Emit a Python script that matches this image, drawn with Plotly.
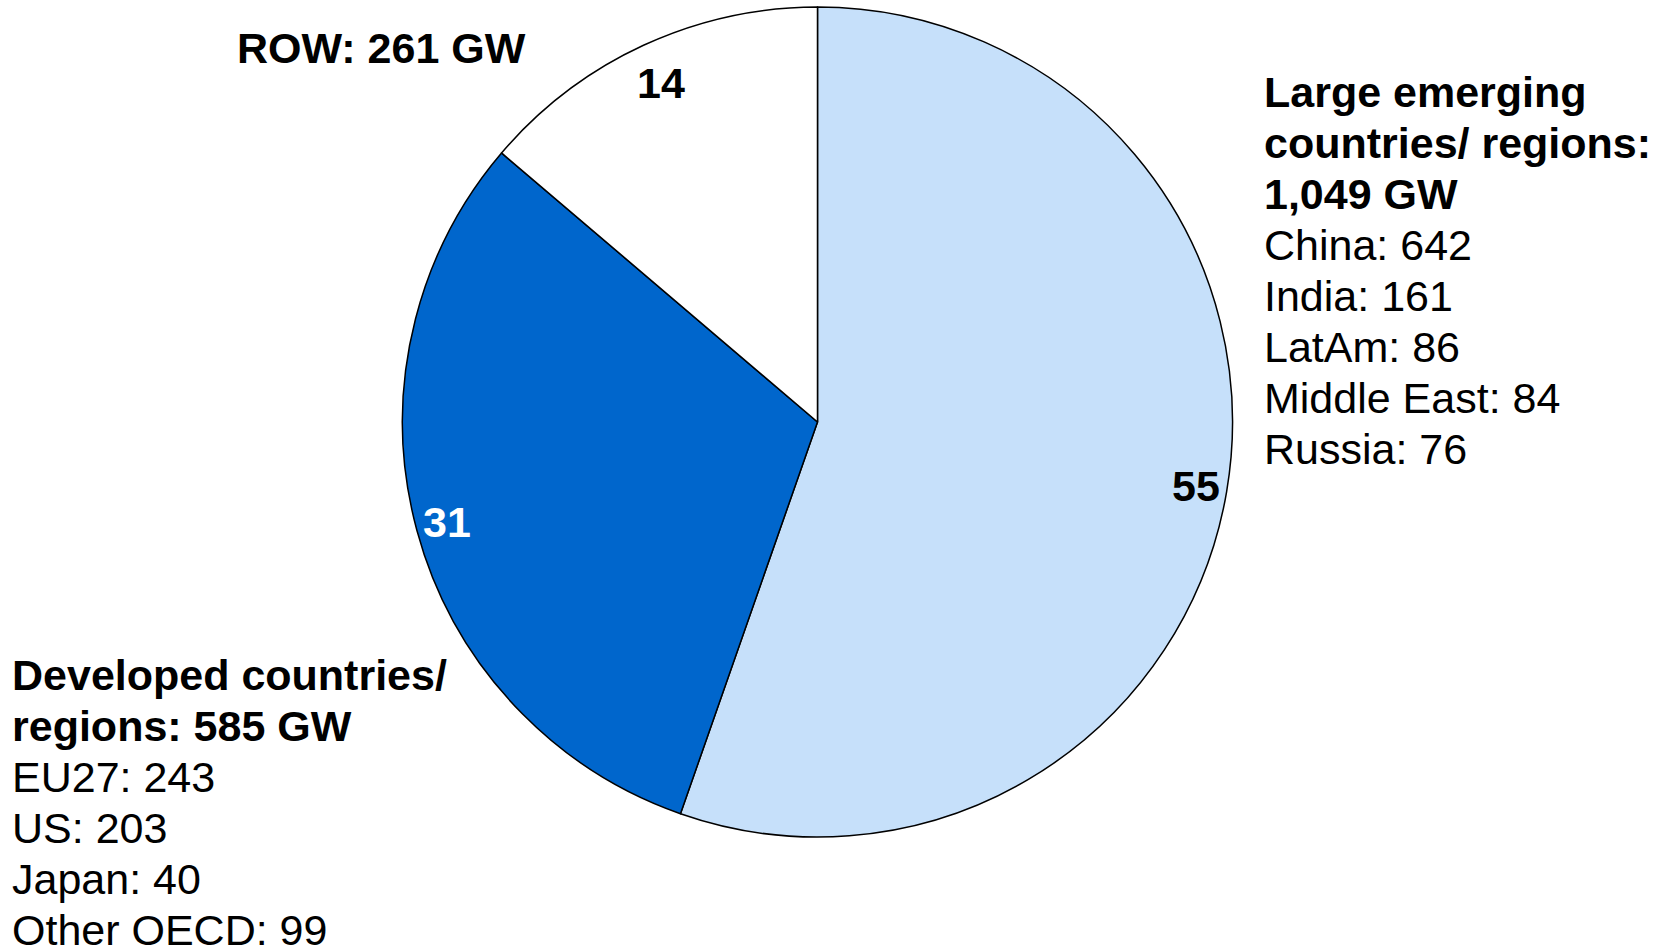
import math
import plotly.graph_objects as go

# ---- data ----
groups = ["Large emerging countries/ regions", "Developed countries/ regions", "ROW"]
capacity_gw = [1049, 585, 261]
share_labels = ["55", "31", "14"]
slice_colors = ["#C6E0FA", "#0066CC", "#FFFFFF"]
label_colors = ["#000000", "#FFFFFF", "#000000"]

emerging_title = ["Large emerging", "countries/ regions:", "1,049 GW"]
emerging_items = ["China: 642", "India: 161", "LatAm: 86", "Middle East: 84", "Russia: 76"]
developed_title = ["Developed countries/", "regions: 585 GW"]
developed_items = ["EU27: 243", "US: 203", "Japan: 40", "Other OECD: 99"]
row_title = "ROW: 261 GW"

W, H = 1660, 949
FONT = "Liberation Sans, Arial, sans-serif"
FS = 43

# pie geometry (pixels)
cx, cy, R = 817.5, 422.0, 415.0
label_radius = [0.925, 0.925, 0.9]

fig = go.Figure(go.Pie(
    labels=groups, values=capacity_gw, sort=False, direction="clockwise", rotation=0,
    marker=dict(colors=slice_colors, line=dict(color="#000000", width=1.5)),
    textinfo="none", hoverinfo="label+value", showlegend=False,
    domain=dict(x=[(cx - R) / W, (cx + R) / W], y=[(H - cy - R) / H, (H - cy + R) / H]),
))

annotations = []

def px(x, y):
    return x / W, (H - y) / H

# percentage labels at mid-angle near rim
total = sum(capacity_gw)
cum = 0.0
for v, lab, col, f in zip(capacity_gw, share_labels, label_colors, label_radius):
    mid = (cum + v / 2) / total * 2 * math.pi
    cum += v
    x = cx + R * f * math.sin(mid)
    y = cy - R * f * math.cos(mid)
    ax, ay = px(x, y)
    annotations.append(dict(x=ax, y=ay, xref="paper", yref="paper", text=f"<b>{lab}</b>",
                            showarrow=False, xanchor="center", yanchor="middle",
                            font=dict(family=FONT, size=FS, color=col)))

LINE = 51.0

def block(x0, y0, bold_lines, plain_lines):
    y = y0
    for t in bold_lines:
        ax, ay = px(x0, y)
        annotations.append(dict(x=ax, y=ay, xref="paper", yref="paper", text=f"<b>{t}</b>",
                                showarrow=False, xanchor="left", yanchor="middle",
                                font=dict(family=FONT, size=FS, color="#000000")))
        y += LINE
    for t in plain_lines:
        ax, ay = px(x0, y)
        annotations.append(dict(x=ax, y=ay, xref="paper", yref="paper", text=t,
                                showarrow=False, xanchor="left", yanchor="middle",
                                font=dict(family=FONT, size=FS, color="#000000")))
        y += LINE

block(1262, 92, emerging_title, emerging_items)
block(10, 675, developed_title, developed_items)
block(235, 48, [row_title], [])

fig.update_layout(
    width=W, height=H, margin=dict(l=0, r=0, t=0, b=0),
    paper_bgcolor="#FFFFFF", plot_bgcolor="#FFFFFF",
    annotations=annotations,
)

fig.write_html("out.html", config={"displayModeBar": False})
